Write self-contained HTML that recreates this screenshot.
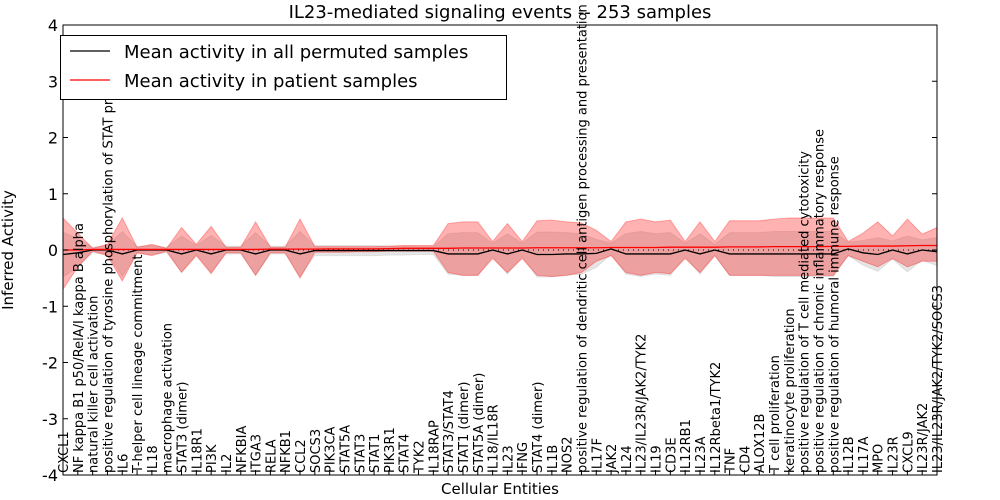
<!DOCTYPE html>
<html><head><meta charset="utf-8"><style>
body{margin:0;background:#fff;}
svg{display:block;font-family:"DejaVu Sans","Liberation Sans",sans-serif;}
</style></head><body>
<svg id="chart" width="1000" height="500" viewBox="0 0 1000 500" xmlns="http://www.w3.org/2000/svg">
<text x="500" y="18" text-anchor="middle" font-size="18">IL23-mediated signaling events -- 253 samples</text>
<g id="plot"></g>
<text transform="translate(13,250) rotate(-90)" text-anchor="middle" font-size="15">Inferred Activity</text>
<text x="500" y="494" text-anchor="middle" font-size="15">Cellular Entities</text>
<g>
<rect x="60.5" y="35.5" width="446" height="64" fill="#fff" stroke="#000"/>
<line x1="70" y1="51" x2="110" y2="51" stroke="#000" stroke-width="1.2"/>
<text x="124" y="58" font-size="18">Mean activity in all permuted samples</text>
<line x1="70" y1="80" x2="110" y2="80" stroke="#f00" stroke-width="1.2"/>
<text x="124" y="87" font-size="18">Mean activity in patient samples</text>
</g>
</svg>
<script>
const categories=["CXCL1","NF kappa B1 p50/RelA/I kappa B alpha","natural killer cell activation","positive regulation of tyrosine phosphorylation of STAT protein","IL6","T-helper cell lineage commitment","IL18","macrophage activation","STAT3 (dimer)","IL18R1","PI3K","IL2","NFKBIA","ITGA3","RELA","NFKB1","CCL2","SOCS3","PIK3CA","STAT5A","STAT3","STAT1","PIK3R1","STAT4","TYK2","IL18RAP","STAT3/STAT4","STAT1 (dimer)","STAT5A (dimer)","IL18/IL18R","IL23","IFNG","STAT4 (dimer)","IL1B","NOS2","positive regulation of dendritic cell antigen processing and presentation","IL17F","JAK2","IL24","IL23/IL23R/JAK2/TYK2","IL19","CD3E","IL12RB1","IL23A","IL12Rbeta1/TYK2","TNF","CD4","ALOX12B","T cell proliferation","keratinocyte proliferation","positive regulation of T cell mediated cytotoxicity","positive regulation of chronic inflammatory response","positive regulation of humoral immune response","IL12B","IL17A","MPO","IL23R","CXCL9","IL23R/JAK2","IL23/IL23R/JAK2/TYK2/SOCS3"];
const permMean=[-0.08,-0.05,0,0,-0.07,0,0,0,-0.07,0,-0.07,0,0,-0.07,0,0,-0.07,-0.01,-0.01,-0.01,-0.01,-0.01,-0.01,-0.01,-0.01,-0.01,-0.07,-0.07,-0.07,0,-0.07,0,-0.08,-0.08,-0.07,-0.07,-0.06,0.02,-0.07,-0.07,-0.07,-0.07,0,-0.07,0,-0.07,-0.07,-0.07,-0.07,-0.07,-0.07,-0.07,-0.07,0.02,-0.05,-0.08,0,-0.07,0,-0.03];
const permStd=[0.4,0.25,0.05,0.08,0.4,0.06,0.08,0.05,0.32,0.08,0.33,0.07,0.07,0.38,0.07,0.07,0.4,0.09,0.09,0.09,0.09,0.09,0.08,0.08,0.07,0.07,0.36,0.38,0.38,0.12,0.36,0.12,0.4,0.4,0.38,0.36,0.25,0.1,0.36,0.4,0.36,0.38,0.12,0.36,0.1,0.38,0.38,0.38,0.4,0.4,0.4,0.4,0.4,0.12,0.22,0.3,0.16,0.32,0.18,0.25];
const patientMean=[0,0,0.01,0.01,0.01,0.01,0.01,0.01,0.01,0.01,0.01,0.01,0.01,0.01,0.015,0.015,0.015,0.015,0.02,0.02,0.02,0.02,0.025,0.03,0.03,0.03,0.03,0.035,0.035,0.035,0.035,0.035,0.04,0.04,0.04,0.04,0.04,0.045,0.045,0.045,0.045,0.05,0.05,0.05,0.05,0.055,0.055,0.055,0.06,0.06,0.06,0.06,0.065,0.065,0.07,0.07,0.07,0.075,0.08,0.08];
const patientUpper=[0.57,0.3,0.03,0.1,0.57,0.05,0.1,0.03,0.4,0.1,0.42,0.05,0.05,0.5,0.05,0.05,0.55,0.06,0.06,0.06,0.06,0.06,0.07,0.08,0.08,0.08,0.47,0.5,0.5,0.15,0.47,0.15,0.52,0.53,0.5,0.48,0.35,0.15,0.5,0.55,0.5,0.53,0.15,0.5,0.15,0.52,0.52,0.52,0.55,0.57,0.57,0.57,0.57,0.15,0.3,0.5,0.25,0.55,0.28,0.4];
const patientLower=[-0.7,-0.3,-0.02,-0.1,-0.55,-0.05,-0.1,-0.02,-0.4,-0.1,-0.42,-0.05,-0.05,-0.45,-0.05,-0.05,-0.5,-0.04,-0.04,-0.04,-0.03,-0.03,-0.02,-0.02,-0.02,-0.02,-0.4,-0.45,-0.45,-0.15,-0.4,-0.15,-0.45,-0.47,-0.45,-0.4,-0.2,-0.1,-0.4,-0.45,-0.4,-0.42,-0.15,-0.4,-0.1,-0.45,-0.45,-0.45,-0.45,-0.45,-0.45,-0.45,-0.45,-0.1,-0.2,-0.3,-0.15,-0.3,-0.2,-0.2];
const yTicks=[-4,-3,-2,-1,0,1,2,3,4];

const NS="http://www.w3.org/2000/svg";
const L=63,R=937,T=25,B=475;
const xS=i=>L+i*(R-L)/(categories.length-1);
const yS=v=>250-v*(B-T)/8;
const plot=document.getElementById('plot');
function mk(t,a,p){const e=document.createElementNS(NS,t);for(const k in a)e.setAttribute(k,a[k]);(p||plot).appendChild(e);return e;}
function band(up,lo){let d='';up.forEach((v,i)=>d+=(i?'L':'M')+xS(i)+' '+yS(v));for(let i=lo.length-1;i>=0;i--)d+='L'+xS(i)+' '+yS(lo[i]);return d+'Z';}
function line(a){return a.map((v,i)=>(i?'L':'M')+xS(i)+' '+yS(v)).join('');}
const gb=mk('path',{d:band(permMean.map((m,i)=>m+permStd[i]),permMean.map((m,i)=>m-permStd[i])),fill:'#a8a8a8','fill-opacity':0.3,stroke:'#999','stroke-opacity':0.2});


const rb=mk('path',{d:band(patientUpper,patientLower),fill:'#f00','fill-opacity':0.3,stroke:'#f00','stroke-opacity':0.3});


const z=mk('line',{x1:L,x2:R,y1:yS(0),y2:yS(0),stroke:'#000','stroke-dasharray':'1,4'});


const pl=mk('path',{d:line(permMean),fill:'none',stroke:'#000','stroke-width':1.3});


const rl=mk('path',{d:line(patientMean),fill:'none',stroke:'#f00','stroke-width':1.3});


const ax=mk('rect',{x:L,y:T,width:R-L,height:B-T,fill:'none',stroke:'#000'});


yTicks.forEach(v=>{
 mk('line',{x1:L,x2:L+5,y1:yS(v),y2:yS(v),stroke:'#000'});
 mk('line',{x1:R-5,x2:R,y1:yS(v),y2:yS(v),stroke:'#000'});
 const t=mk('text',{x:L-5,y:yS(v)+6,'text-anchor':'end','font-size':16});
 t.textContent=v;
 
 
});
categories.forEach((c,i)=>{
 const x=xS(i);
 mk('line',{x1:x,x2:x,y1:B,y2:B-5,stroke:'#000'});
 const t=mk('text',{transform:`translate(${x+5},${B-2}) rotate(-90)`,'font-size':13});
 t.textContent=c;
 
 
});
</script>
</body></html>
